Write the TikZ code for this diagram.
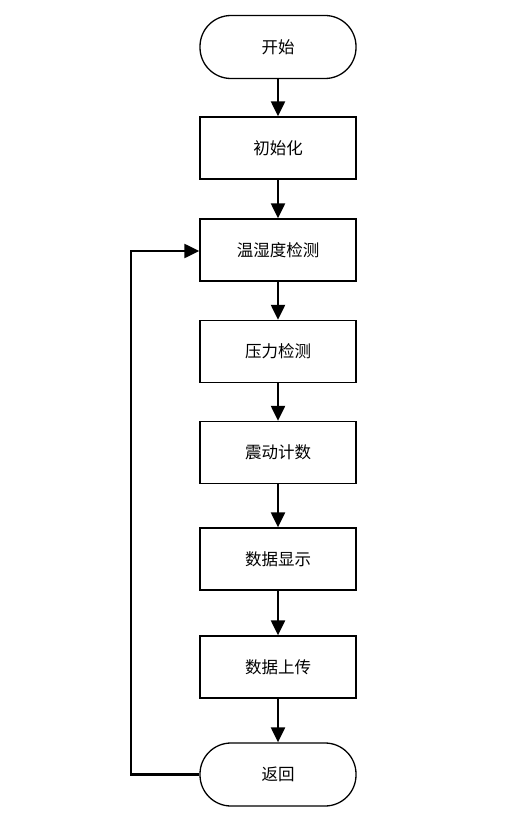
\documentclass[tikz,border=0pt]{standalone}
\usepackage{fontspec}
\newfontfamily\cjk{Noto Sans CJK SC}
\usetikzlibrary{arrows.meta}
\begin{document}
\begin{tikzpicture}[x=1pt,y=-1pt,
  every node/.style={font=\cjk\fontsize{16.5}{20}\selectfont, text=black},
  procbox/.style={draw, line width=1.3pt, minimum width=156pt, minimum height=62pt, inner sep=0pt},
  termbox/.style={draw, line width=1.3pt, rounded corners=31pt, minimum width=156pt, minimum height=63pt, inner sep=0pt},
  flow/.style={line width=2.2pt, -{Triangle[width=14pt,length=15pt]}}]
\useasboundingbox[fill=white] (0,0) rectangle (510,824);
\node[termbox] (start) at (278,47) {开始};
\node[procbox] (init) at (278,148) {初始化};
\node[procbox] (temp) at (278,250) {温湿度检测};
\node[procbox] (press) at (278,351.5) {压力检测};
\node[procbox] (vib) at (278,452.5) {震动计数};
\node[procbox] (disp) at (278,559) {数据显示};
\node[procbox] (up) at (278,667) {数据上传};
\node[termbox] (ret) at (278,774.5) {返回};
\coordinate (c1) at (131,774.5);
\coordinate (c2) at (131,251);
\draw[flow] (start) -- (init);
\draw[flow] (init) -- (temp);
\draw[flow] (temp) -- (press);
\draw[flow] (press) -- (vib);
\draw[flow] (vib) -- (disp);
\draw[flow] (disp) -- (up);
\draw[flow] (up) -- (ret);
\draw[flow] (ret.west) -- (c1) -- (c2) -- (temp.west |- c2);
\end{tikzpicture}
\end{document}
